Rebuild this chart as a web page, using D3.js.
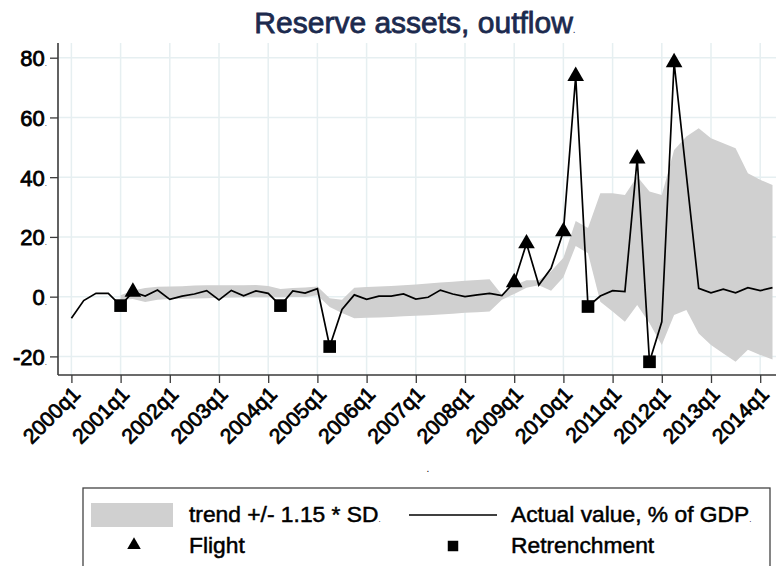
<!DOCTYPE html>
<html><head><meta charset="utf-8">
<script src="https://cdn.jsdelivr.net/npm/d3@7/dist/d3.min.js"></script>
<style>body{margin:0;background:#fff}svg{display:block}text{font-family:"Liberation Sans",Arial,Helvetica,sans-serif}</style>
</head><body><svg id="c" width="776" height="566"></svg>
<script>
const quarters = ["2000q1","2000q2","2000q3","2000q4","2001q1","2001q2","2001q3","2001q4",
"2002q1","2002q2","2002q3","2002q4","2003q1","2003q2","2003q3","2003q4",
"2004q1","2004q2","2004q3","2004q4","2005q1","2005q2","2005q3","2005q4",
"2006q1","2006q2","2006q3","2006q4","2007q1","2007q2","2007q3","2007q4",
"2008q1","2008q2","2008q3","2008q4","2009q1","2009q2","2009q3","2009q4",
"2010q1","2010q2","2010q3","2010q4","2011q1","2011q2","2011q3","2011q4",
"2012q1","2012q2","2012q3","2012q4","2013q1","2013q2","2013q3","2013q4",
"2014q1","2014q2"];
const actualValue = [-7.2,-1.3,1.1,1.1,-3.0,1.6,0.2,2.2,
-0.9,0.2,0.9,2.0,-1.1,2.1,0.3,1.9,
1.1,-3.0,1.9,1.2,2.7,-16.7,-4.3,0.6,
-0.9,0.2,0.2,0.9,-0.8,-0.2,2.2,0.9,
0.0,0.6,1.1,0.4,4.8,17.8,3.9,9.5,
21.8,73.8,-3.3,0.2,2.0,1.7,46.2,-21.8,
-8.4,78.4,40.6,2.8,1.3,2.5,1.3,3.0,
2.0,3.0];
const bandUpper = [null,null,null,null,0.5,2.1,2.9,3.3,
3.4,3.5,3.7,3.8,3.8,3.8,3.8,3.9,
3.6,2.6,2.9,3.1,3.4,-0.5,-1.0,3.0,
3.2,3.4,3.6,3.8,4.1,4.4,4.7,5.0,
5.3,5.6,5.8,0.6,3.8,5.5,5.5,8.5,
13.0,25.3,23.0,34.6,34.6,34.0,40.2,35.2,
34.0,49.1,53.6,56.4,53.0,51.4,49.7,41.3,
39.1,37.4];
const bandLower = [null,null,null,null,-1.0,-0.8,-1.8,-1.0,
-0.8,-0.7,-0.6,-0.5,-0.4,-0.3,-0.2,-0.2,
-0.2,-0.2,-0.1,-0.1,0.5,-3.5,-5.5,-7.2,
-7.1,-7.0,-6.8,-6.6,-6.4,-6.2,-6.0,-5.7,
-5.4,-5.2,-5.0,-1.0,0.9,3.0,3.8,2.0,
6.5,17.0,14.5,-1.7,-5.0,-8.4,-2.8,-8.9,
-16.2,-6.1,-4.5,-12.3,-16.2,-19.0,-21.8,-17.8,
-19.5,-21.0];
const flightQuarters = ["2001q2","2009q1","2009q2","2010q1","2010q2","2011q3","2012q2"];
const retrenchQuarters = ["2001q1","2004q2","2005q2","2010q3","2011q4"];
const xTickLabels = ["2000q1","2001q1","2002q1","2003q1","2004q1","2005q1","2006q1","2007q1",
"2008q1","2009q1","2010q1","2011q1","2012q1","2013q1","2014q1"];
const yTicks = [-20,0,20,40,60,80];
const titleText = "Reserve assets, outflow";
const legendLabels = ["trend +/- 1.15 * SD", "Actual value, % of GDP", "Flight", "Retrenchment"];

const svg = d3.select("#c");
const L = 58, R = 776, T = 43, B = 375;
const x = d3.scalePoint().domain(quarters).range([71.4, 772.5]);
const y = d3.scaleLinear().domain([-20, 80]).range([356.4, 57.7]);
const grid = "#e6eff1";

// gridlines
svg.append("g").selectAll("line").data(yTicks).join("line")
  .attr("x1", L).attr("x2", R).attr("y1", d => y(d)).attr("y2", d => y(d))
  .attr("stroke", grid).attr("stroke-width", 1.5);
svg.append("g").selectAll("line").data(xTickLabels).join("line")
  .attr("x1", d => x(d)).attr("x2", d => x(d)).attr("y1", T).attr("y2", B)
  .attr("stroke", grid).attr("stroke-width", 1.5);

const rows = quarters.map((q, i) => ({q, v: actualValue[i], hi: bandUpper[i], lo: bandLower[i]}));

// band
svg.append("path").datum(rows)
  .attr("d", d3.area().defined(d => d.hi != null).x(d => x(d.q)).y0(d => y(d.lo)).y1(d => y(d.hi)))
  .attr("fill", "#d0d0d0");

// line
svg.append("path").datum(rows)
  .attr("d", d3.line().x(d => x(d.q)).y(d => y(d.v)))
  .attr("fill", "none").attr("stroke", "#000").attr("stroke-width", 1.7).attr("stroke-linejoin", "miter");

const byQ = new Map(rows.map(r => [r.q, r]));
const tri = d3.symbol().type(d3.symbolTriangle).size(120);
const sq = d3.symbol().type(d3.symbolSquare).size(160);
svg.append("g").selectAll("path").data(flightQuarters).join("path")
  .attr("d", tri).attr("transform", d => `translate(${x(d)},${y(byQ.get(d).v)})`).attr("fill", "#000");
svg.append("g").selectAll("path").data(retrenchQuarters).join("path")
  .attr("d", sq).attr("transform", d => `translate(${x(d)},${y(byQ.get(d).v)})`).attr("fill", "#000");

// axes
const axisColor = "#3a3a3a";
const ya = svg.append("g").attr("transform", `translate(${L},0)`)
  .call(d3.axisLeft(y).tickValues(yTicks).tickSize(8).tickPadding(3).tickFormat(d => d));
ya.select(".domain").attr("d", `M0,${T}V${B}`).attr("stroke", axisColor).attr("stroke-width", 1.6);
ya.selectAll(".tick line").attr("stroke", axisColor).attr("stroke-width", 1.3);
ya.selectAll(".tick text").attr("font-size", 22).attr("fill", "#000").attr("font-family", "Liberation Sans, Arial")
  .attr("dx", 0).attr("dy", "0.36em").attr("stroke", "#000").attr("stroke-width", 0.8).attr("paint-order", "stroke")
  .append("tspan").attr("font-size", 8).attr("stroke-width", 0).text(".");

const xa = svg.append("g").attr("transform", `translate(0,${B})`)
  .call(d3.axisBottom(x).tickValues(xTickLabels).tickSize(8).tickPadding(4));
xa.select(".domain").attr("d", `M${L},0H${R}`).attr("stroke", axisColor).attr("stroke-width", 1.6);
xa.selectAll(".tick line").attr("stroke", axisColor).attr("stroke-width", 1.3);
xa.selectAll(".tick text").attr("font-size", 21).attr("fill", "#000").attr("font-family", "Liberation Sans, Arial")
  .attr("text-anchor", "end").attr("y", 0).attr("dy", 0)
  .attr("stroke", "#000").attr("stroke-width", 0.8)
  .attr("transform", "translate(9.5,20.5) rotate(-45)");

// title
const tt = svg.append("text").attr("x", 415).attr("y", 33).attr("text-anchor", "middle")
  .attr("font-size", 30).attr("fill", "#1c2a4e").attr("stroke", "#1c2a4e").attr("stroke-width", 0.8).text(titleText);
tt.append("tspan").attr("font-size", 10).attr("stroke-width", 0).text(".");

// empty x title dot
svg.append("text").attr("x", 428).attr("y", 472).attr("text-anchor", "middle").attr("font-size", 10).text(".");

// legend
const lg = svg.append("g");
lg.append("rect").attr("x", 83).attr("y", 488).attr("width", 687).attr("height", 90)
  .attr("fill", "#fff").attr("stroke", "#444").attr("stroke-width", 1.3);
lg.append("rect").attr("x", 91).attr("y", 503).attr("width", 82).attr("height", 24).attr("fill", "#d0d0d0");
lg.append("line").attr("x1", 409).attr("x2", 497).attr("y1", 515).attr("y2", 515).attr("stroke", "#000").attr("stroke-width", 1.6);
lg.append("path").attr("d", d3.symbol().type(d3.symbolTriangle).size(80)).attr("transform", "translate(134,545)");
lg.append("path").attr("d", d3.symbol().type(d3.symbolSquare).size(110)).attr("transform", "translate(453,546)");
const lt = [[189,522,0,true],[511,522,1,true],[189,553,2,false],[511,553,3,false]];
lt.forEach(([lx, ly, i, dot]) => {
  const t = lg.append("text").attr("x", lx).attr("y", ly).attr("font-size", 22.8).attr("fill", "#000")
    .attr("stroke", "#000").attr("stroke-width", 0.5).text(legendLabels[i]);
  if (dot) t.append("tspan").attr("font-size", 8).attr("stroke-width", 0).text(".");
});
</script></body></html>
